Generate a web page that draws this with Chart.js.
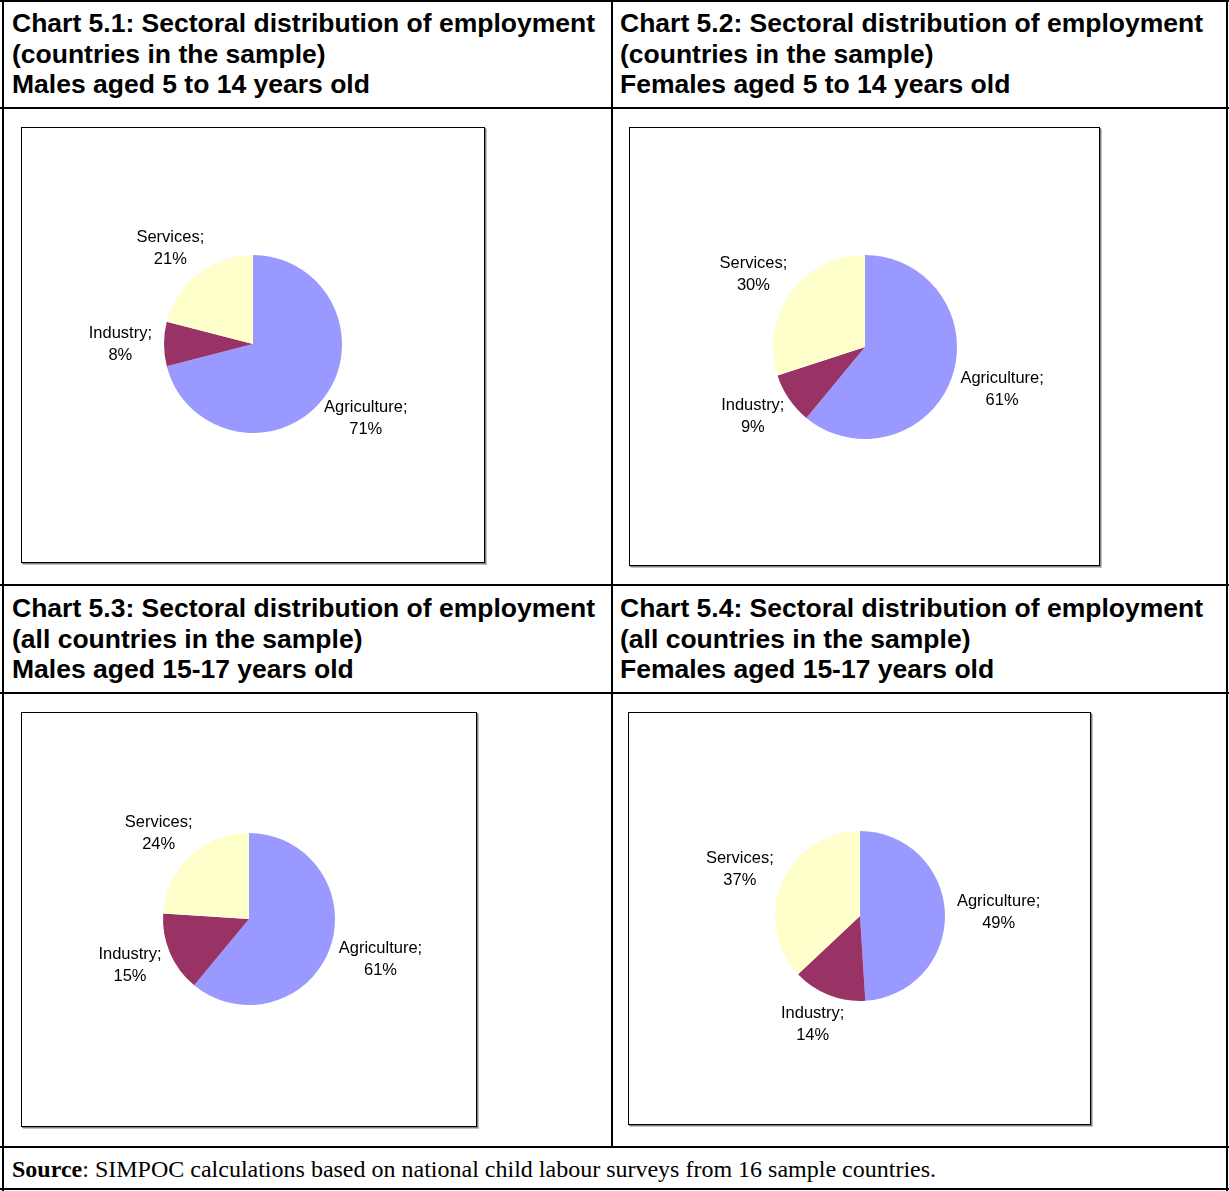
<!DOCTYPE html>
<html>
<head>
<meta charset="utf-8">
<script src="https://cdn.jsdelivr.net/npm/chart.js@4.4.1/dist/chart.umd.min.js"></script>
<style>
  html, body { margin: 0; padding: 0; background: #fff; }
  #page { position: relative; width: 1229px; height: 1191px; overflow: hidden; }
  .rule { position: absolute; background: #000; }
  .title {
    position: absolute;
    font: bold 26.5px "Liberation Sans", Arial, sans-serif;
    line-height: 30.5px;
    color: #000;
    white-space: nowrap;
  }
  .box {
    position: absolute;
    border: 1px solid #000;
    box-shadow: 1px 1px 0 #808080, 2px 2px 0 #c0c0c0;
    background: #fff;
  }
  .box canvas { display: block; }
  #source {
    position: absolute;
    left: 12px;
    top: 1155px;
    font: 24px "Liberation Serif", "Times New Roman", serif;
    line-height: 28px;
    white-space: nowrap;
  }
</style>
</head>
<body>
<div id="page"></div>
<script>
// sectors, clockwise from 12 o'clock
const CATEGORIES = ['Agriculture', 'Industry', 'Services'];
const SECTOR_COLORS = ['#9999FF', '#993366', '#FFFFCC'];

// shares of employment, percent
const MALES_5_14 = [71, 8, 21];
const FEMALES_5_14 = [61, 9, 30];
const MALES_15_17 = [61, 15, 24];
const FEMALES_15_17 = [49, 14, 37];

const TITLES = [
  ['Chart 5.1: Sectoral distribution of employment', '(countries in the sample)', 'Males aged 5 to 14 years old'],
  ['Chart 5.2: Sectoral distribution of employment', '(countries in the sample)', 'Females aged 5 to 14 years old'],
  ['Chart 5.3: Sectoral distribution of employment', '(all countries in the sample)', 'Males aged 15-17 years old'],
  ['Chart 5.4: Sectoral distribution of employment', '(all countries in the sample)', 'Females aged 15-17 years old'],
];

// panel layout: title origin, chart box, pie centre (inside box) and radius
const PANELS = [
  { data: MALES_5_14,    title: [12, 8],   box: [21, 127, 464, 436],  pie: [231, 216, 89] },
  { data: FEMALES_5_14,  title: [620, 8],  box: [629, 127, 471, 439], pie: [235, 219, 92] },
  { data: MALES_15_17,   title: [12, 593], box: [21, 712, 456, 415],  pie: [227, 206, 86] },
  { data: FEMALES_15_17, title: [620, 593], box: [628, 712, 463, 413], pie: [231, 203, 85] },
];

const page = document.getElementById('page');

function rule(x, y, w, h) {
  const d = document.createElement('div');
  d.className = 'rule';
  Object.assign(d.style, { left: x + 'px', top: y + 'px', width: w + 'px', height: h + 'px' });
  page.appendChild(d);
}

// table grid
rule(0, 0, 1229, 2);
rule(2, 0, 2, 1191);
rule(1226, 0, 2, 1191);
rule(611, 0, 2, 1148);
rule(0, 107, 1229, 2);
rule(0, 584, 1229, 2);
rule(0, 692, 1229, 2);
rule(0, 1146, 1229, 2);
rule(0, 1188, 1229, 2);

// "Name;" over "NN%" just outside each slice
const sliceLabels = {
  id: 'sliceLabels',
  afterDatasetsDraw(chart) {
    const ctx = chart.ctx;
    const meta = chart.getDatasetMeta(0);
    const values = chart.data.datasets[0].data;
    ctx.save();
    ctx.font = '16.5px "Liberation Sans", Arial, sans-serif';
    ctx.fillStyle = '#000';
    ctx.textAlign = 'center';
    ctx.textBaseline = 'middle';
    meta.data.forEach((arc, i) => {
      const p = arc.getProps(['x', 'y', 'startAngle', 'endAngle', 'outerRadius'], true);
      const mid = (p.startAngle + p.endAngle) / 2;
      const lines = [chart.data.labels[i] + ';', values[i] + '%'];
      const w = Math.max(...lines.map(t => ctx.measureText(t).width));
      const h = 40;
      const gap = p.outerRadius + 12;
      const cx = p.x + Math.cos(mid) * (gap + w / 2);
      const cy = p.y + Math.sin(mid) * (gap + h / 2);
      ctx.fillText(lines[0], cx, cy - 11);
      ctx.fillText(lines[1], cx, cy + 11);
    });
    ctx.restore();
  }
};

PANELS.forEach((panel, idx) => {
  const t = document.createElement('div');
  t.className = 'title';
  t.style.left = panel.title[0] + 'px';
  t.style.top = panel.title[1] + 'px';
  t.innerHTML = TITLES[idx].join('<br>');
  page.appendChild(t);

  const [bx, by, bw, bh] = panel.box;
  const box = document.createElement('div');
  box.className = 'box';
  Object.assign(box.style, { left: bx + 'px', top: by + 'px', width: (bw - 2) + 'px', height: (bh - 2) + 'px' });
  const canvas = document.createElement('canvas');
  canvas.width = bw - 2;
  canvas.height = bh - 2;
  box.appendChild(canvas);
  page.appendChild(box);

  const [px, py, r] = panel.pie;
  new Chart(canvas, {
    type: 'pie',
    data: {
      labels: CATEGORIES,
      datasets: [{
        data: panel.data,
        backgroundColor: SECTOR_COLORS,
        borderWidth: 0,
      }],
    },
    options: {
      responsive: false,
      animation: false,
      layout: {
        padding: {
          left: px - r,
          right: (bw - 2) - px - r,
          top: py - r,
          bottom: (bh - 2) - py - r,
        },
      },
      plugins: {
        legend: { display: false },
        tooltip: { enabled: false },
      },
    },
    plugins: [sliceLabels],
  });
});

const src = document.createElement('div');
src.id = 'source';
src.innerHTML = '<b>Source</b>: SIMPOC calculations based on national child labour surveys from 16 sample countries.';
page.appendChild(src);
</script>
</body>
</html>
